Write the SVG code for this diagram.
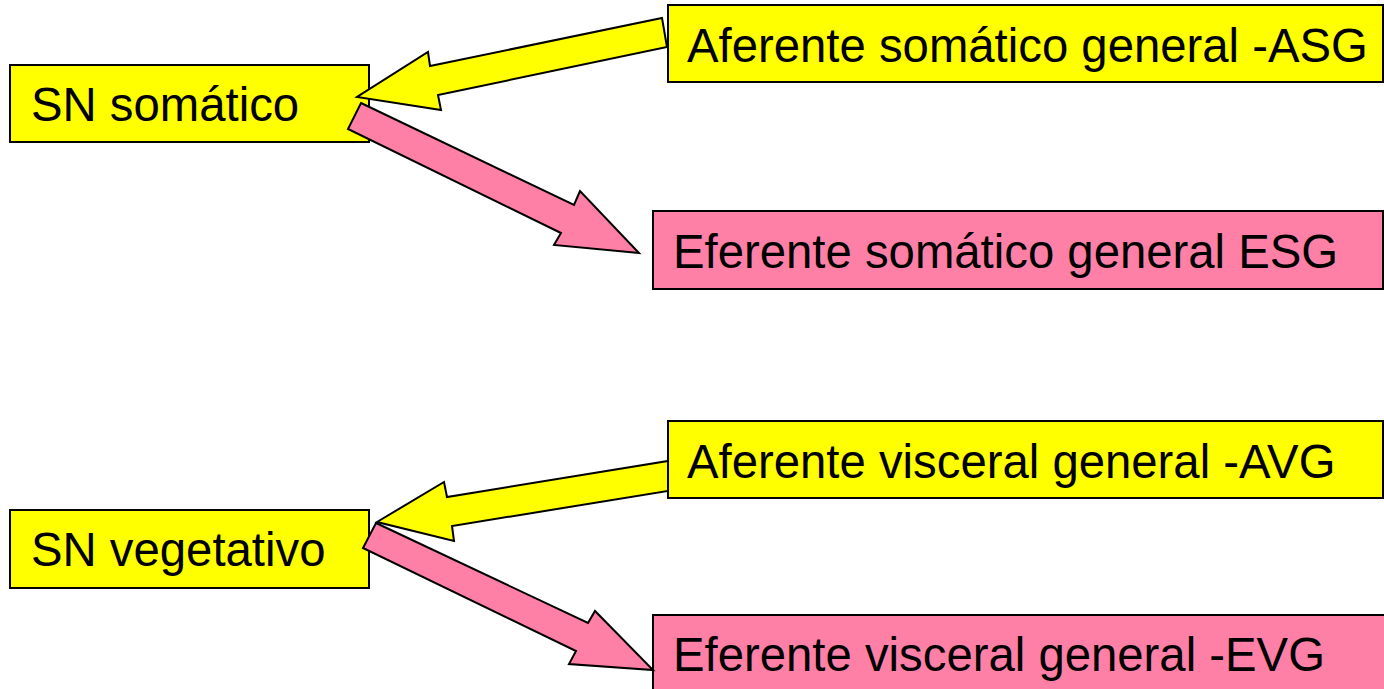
<svg xmlns="http://www.w3.org/2000/svg" width="1384" height="689" viewBox="0 0 1384 689">
<style>
.y{fill:#FFFF00;stroke:#000;stroke-width:2}
.p{fill:#FF80A6;stroke:#000;stroke-width:2}
.a{stroke-linejoin:miter}
text{font-family:"Liberation Sans",Arial,sans-serif;font-size:47.3px;fill:#000}
</style>
<rect width="1384" height="689" fill="#fff"/>
<g id="sn-somatico">
<rect class="y" x="10" y="65" width="359" height="77"/>
<text x="31" y="121">SN somático</text>
</g>
<g id="asg">
<rect class="y" x="668" y="5" width="715" height="77"/>
<text x="687" y="62">Aferente somático general -ASG</text>
</g>
<g id="esg">
<rect class="p" x="653" y="211" width="730" height="78"/>
<text x="673" y="268">Eferente somático general ESG</text>
</g>
<g id="avg">
<rect class="y" x="668" y="421" width="715" height="77"/>
<text x="687" y="478">Aferente visceral general -AVG</text>
</g>
<g id="sn-vegetativo">
<rect class="y" x="10" y="510" width="359" height="78"/>
<text x="31" y="566">SN vegetativo</text>
</g>
<g id="evg">
<rect class="p" x="653" y="615" width="740" height="90"/>
<text x="673" y="671">Eferente visceral general -EVG</text>
</g>
<g id="connectors">
<polygon class="y a" points="662,18 667,47 438,95 441,110 357,97 428,52 430,66"/>
<polygon class="p a" points="361,103 574,205 580,191 639,253 554,245 561,233 348,129"/>
<polygon class="y a" points="668,461 668,491 452,526 454,541 377,522 444,482 447,497"/>
<polygon class="p a" points="376,523 588,623 595,611 653,670 569,664 576,651 363,548"/>
</g>
</svg>
